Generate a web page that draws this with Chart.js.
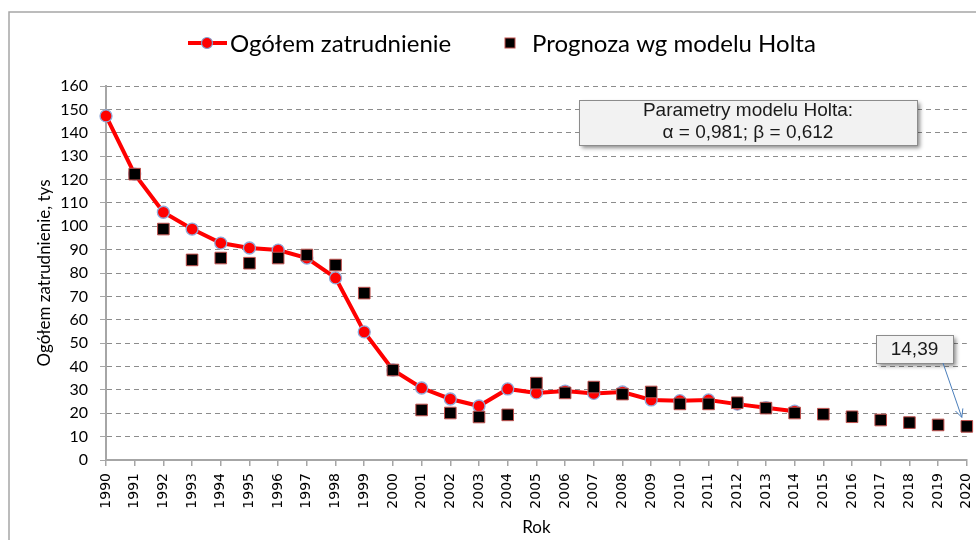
<!DOCTYPE html>
<html><head><meta charset="utf-8">
<script src="https://cdn.jsdelivr.net/npm/chart.js@4/dist/chart.umd.min.js"></script>
<style>html,body{margin:0;padding:0;background:#fff;}#wrap{width:976px;height:540px;}</style>
</head><body><div id="wrap"><canvas id="c" width="976" height="540"></canvas></div>
<script>
const years = ['1990','1991','1992','1993','1994','1995','1996','1997','1998','1999','2000','2001','2002','2003','2004','2005','2006','2007','2008','2009','2010','2011','2012','2013','2014','2015','2016','2017','2018','2019','2020'];
const actual = [147.2,122.3,106.0,98.8,92.8,90.7,89.8,86.4,77.9,54.8,38.5,30.8,26.1,23.1,30.4,28.7,29.5,28.5,29.1,25.7,25.4,25.7,23.9,22.4,20.9,null,null,null,null,null,null];
const forecast = [null,122.3,98.8,85.6,86.4,84.2,86.4,87.7,83.4,71.4,38.5,21.4,20.1,18.4,19.3,32.9,28.7,31.2,28.2,29.1,24.0,24.0,24.5,22.2,20.1,19.6,18.5,17.1,16.0,15.0,14.39];
const yTicksMin = 0, yTicksMax = 160, yStep = 10;
const seriesNames = ['Ogółem zatrudnienie','Prognoza wg modelu Holta'];
const yTitle = 'Ogółem zatrudnienie, tys';
const xTitle = 'Rok';
const paramLines = ['Parametry modelu Holta:','α = 0,981; β = 0,612'];
const calloutText = '14,39';
const calloutIndex = 30;

const deco = {
  id:'deco',
  beforeDraw(chart){
    const ctx = chart.ctx;
    ctx.save();
    ctx.fillStyle='#fff'; ctx.fillRect(0,0,chart.width,chart.height);
    ctx.strokeStyle='#a6a6a6'; ctx.lineWidth=1.5;
    ctx.beginPath(); ctx.moveTo(9,chart.height+5); ctx.lineTo(9,12); ctx.lineTo(chart.width+5,12); ctx.stroke();
    ctx.restore();
  },
  afterDraw(chart){
    const ctx = chart.ctx;
    ctx.save();
    // legend
    const ly = 43;
    ctx.strokeStyle='#ff0000'; ctx.lineWidth=4;
    ctx.beginPath(); ctx.moveTo(188,ly); ctx.lineTo(227,ly); ctx.stroke();
    ctx.beginPath(); ctx.arc(207,ly,5.5,0,Math.PI*2); ctx.fillStyle='#ff0000'; ctx.fill();
    ctx.strokeStyle='#7f9fd0'; ctx.lineWidth=1.2; ctx.stroke();
    ctx.fillStyle='#000'; ctx.strokeStyle='#c0504d'; ctx.lineWidth=1;
    ctx.fillRect(505,ly-5,10,10); ctx.strokeRect(505,ly-5,10,10);
    ctx.fillStyle='#000'; ctx.textBaseline='middle'; ctx.textAlign='left';
    ctx.font='24px Lato';
    ctx.fillText(seriesNames[0],230,ly+1);
    ctx.fillText(seriesNames[1],532,ly+1);
    // parameter box
    const bx=579, by=100, bw=338, bh=45;
    ctx.save();
    ctx.shadowColor='rgba(0,0,0,0.45)'; ctx.shadowBlur=4; ctx.shadowOffsetX=3; ctx.shadowOffsetY=3;
    ctx.fillStyle='#f2f2f2'; ctx.fillRect(bx,by,bw,bh);
    ctx.restore();
    ctx.strokeStyle='#8c8c8c'; ctx.lineWidth=1; ctx.strokeRect(bx+0.5,by+0.5,bw,bh);
    ctx.fillStyle='#1a1a1a'; ctx.textAlign='center'; ctx.font='19px "Liberation Sans"';
    ctx.fillText(paramLines[0],bx+bw/2,by+11);
    ctx.fillText(paramLines[1],bx+bw/2,by+33);
    // callout
    const xs=chart.scales.x, ys=chart.scales.y;
    const px=xs.getPixelForValue(calloutIndex), py=ys.getPixelForValue(forecast[calloutIndex]);
    const cx=876, cy=335, cw=77, ch=28;
    ctx.save();
    ctx.shadowColor='rgba(0,0,0,0.45)'; ctx.shadowBlur=4; ctx.shadowOffsetX=3; ctx.shadowOffsetY=3;
    ctx.fillStyle='#f2f2f2'; ctx.fillRect(cx,cy,cw,ch);
    ctx.restore();
    ctx.strokeStyle='#8c8c8c'; ctx.strokeRect(cx+0.5,cy+0.5,cw,ch);
    ctx.fillStyle='#1a1a1a'; ctx.font='19px "Liberation Sans"';
    ctx.fillText(calloutText,cx+cw/2,cy+ch/2+1);
    // arrow
    const ax=943, ay=cy+ch, tx=px-5, ty=py-9;
    ctx.strokeStyle='#4a7ebb'; ctx.lineWidth=1;
    ctx.beginPath(); ctx.moveTo(ax,ay); ctx.lineTo(tx,ty); ctx.stroke();
    const ang=Math.atan2(ty-ay,tx-ax), L=9;
    ctx.beginPath();
    ctx.moveTo(tx-L*Math.cos(ang-0.45),ty-L*Math.sin(ang-0.45));
    ctx.lineTo(tx,ty);
    ctx.lineTo(tx-L*Math.cos(ang+0.45),ty-L*Math.sin(ang+0.45));
    ctx.stroke();
    ctx.restore();
  }
};

new Chart(document.getElementById('c'),{
  type:'line',
  data:{
    labels:years,
    datasets:[
      {label:seriesNames[0],data:actual,borderColor:'#ff0000',borderWidth:4,backgroundColor:'#ff0000',
       pointRadius:6,pointBackgroundColor:'#ff0000',pointBorderColor:'#8fa8d8',pointBorderWidth:1.3,tension:0,order:2},
      {label:seriesNames[1],data:forecast,showLine:false,pointStyle:'rect',pointRadius:8.2,
       pointBackgroundColor:'#000',pointBorderColor:'#c0504d',pointBorderWidth:1,order:1}
    ]
  },
  options:{
    responsive:false,animation:false,
    layout:{padding:{left:2,top:86,right:3,bottom:0}},
    plugins:{legend:{display:false},tooltip:{enabled:false}},
    scales:{
      x:{type:'category',offset:false,
        grid:{drawOnChartArea:false,color:'#a6a6a6',tickLength:6,lineWidth:1.5},
        border:{color:'#a6a6a6',width:2},
        ticks:{minRotation:90,maxRotation:90,autoSkip:false,padding:7,color:'#000',font:{family:'DejaVu Sans',size:14}},
        title:{display:true,text:xTitle,color:'#000',font:{family:'Lato',size:17},padding:{top:0,bottom:2}},
        afterFit(s){s.height=80;s.paddingLeft=0;s.paddingRight=0;}
      },
      y:{min:yTicksMin,max:yTicksMax,
        ticks:{stepSize:yStep,padding:12,color:'#000',font:{family:'Lato',size:16}},
        grid:{color:(c)=>c.tick&&c.tick.value===0?'rgba(0,0,0,0)':'#8c8c8c',tickColor:'#a6a6a6',tickLength:6,lineWidth:1},
        border:{dash:[5,4],color:'#a6a6a6',width:2},
        title:{display:true,text:yTitle,color:'#000',font:{family:'Lato',size:17},padding:{top:32,bottom:0}},
        afterFit(s){s.width=104;s.paddingTop=0;s.paddingBottom=0;}
      }
    }
  },
  plugins:[deco]
});
</script></body></html>
